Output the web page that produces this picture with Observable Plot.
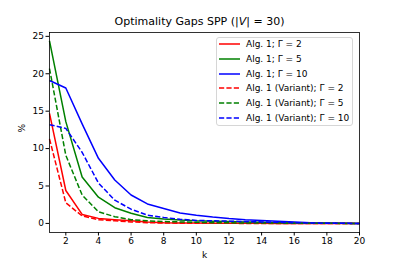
<!DOCTYPE html>
<html>
<head>
<meta charset="utf-8">
<script src="https://cdn.jsdelivr.net/npm/d3@7"></script>
<script src="https://cdn.jsdelivr.net/npm/@observablehq/plot@0.6"></script>
<style>
  body { margin: 0; background: #fff; font-family: "DejaVu Sans", sans-serif; }
  #wrap { position: relative; width: 399px; height: 266px; }
  #title { position: absolute; left: 0; width: 399px; top: 15px; text-align: center; font-size: 11px; color: #000; white-space: nowrap; }
  #legend { position: absolute; left: 216px; top: 37px; width: 137px; height: 89px; border: 1px solid #d6d6d6; border-radius: 3px; background: rgba(255,255,255,0.8); box-sizing: border-box; }
  .row { position: absolute; left: 0; height: 14px; font-size: 9px; color: #000; white-space: nowrap; }
  .row svg { position: absolute; left: 2px; top: 0; }
  .row span { position: absolute; left: 29px; top: 0; line-height: 14px; }
</style>
</head>
<body>
<div id="wrap">
  <div id="chart"></div>
  <div id="title">Optimality Gaps SPP (|<i>V</i>| = 30)</div>
  <div id="legend"></div>
</div>
<script>
const k = [1,2,3,4,5,6,7,8,9,10,11,12,13,14,15,16,17,18,19,20];
const alg1G2  = [14.7,4.4,1.2,0.67,0.5,0.35,0.2,0.1,0.06,0.04,0.03,0.02,0.01,0.01,0,0,0,0,0,0];
const alg1G5  = [24.4,13.6,6.2,3.5,2.1,1.35,0.8,0.6,0.45,0.35,0.3,0.25,0.2,0.15,0.1,0.05,0.03,0.02,0.01,0];
const alg1G10 = [19.1,18.1,13.3,8.7,5.8,3.8,2.6,2.0,1.4,1.1,0.85,0.65,0.5,0.4,0.3,0.2,0.1,0.05,0.02,0];
const varG2   = [11.3,2.75,1.0,0.5,0.35,0.2,0.1,0.05,0.03,0.02,0.01,0.01,0,0,0,0,0,0,0,0];
const varG5   = [20.7,9.1,3.8,1.55,0.9,0.5,0.35,0.25,0.2,0.15,0.1,0.08,0.06,0.05,0.04,0.03,0.02,0.01,0,0];
const varG10  = [13.2,12.7,9.5,5.4,3.1,1.9,1.1,0.8,0.55,0.4,0.35,0.3,0.25,0.2,0.15,0.1,0.05,0.03,0.01,0];
const seriesNames = ["Alg. 1; Γ = 2","Alg. 1; Γ = 5","Alg. 1; Γ = 10","Alg. 1 (Variant); Γ = 2","Alg. 1 (Variant); Γ = 5","Alg. 1 (Variant); Γ = 10"];
const seriesValues = [alg1G2, alg1G5, alg1G10, varG2, varG5, varG10];
const seriesColors = ["#ff0000","#008000","#0000ff","#ff0000","#008000","#0000ff"];
const seriesDashed = [false,false,false,true,true,true];
const xTicks = [2,4,6,8,10,12,14,16,18,20];
const yTicks = [0,5,10,15,20,25];

const dash = "5.2,2.2";
const marks = [];
seriesValues.forEach((vals, i) => {
  const rows = k.map((kk, j) => ({k: kk, v: vals[j]}));
  marks.push(Plot.line(rows, {x: "k", y: "v", stroke: seriesColors[i], strokeWidth: 1.5,
    strokeDasharray: seriesDashed[i] ? dash : null, strokeLinejoin: "round", strokeLinecap: "butt"}));
});

const chart = Plot.plot({
  width: 399, height: 266,
  marginLeft: 49, marginRight: 40, marginTop: 32, marginBottom: 34,
  style: {fontFamily: "DejaVu Sans", fontSize: "9px", color: "#000", background: "#fff", overflow: "visible"},
  x: {domain: [1, 20]},
  y: {domain: [-1.215, 25.515]},
  marks: [
    ...marks,
    Plot.frame({stroke: "#000", strokeWidth: 0.8}),
    Plot.axisY({ticks: yTicks, tickSize: 3.5, tickPadding: 2, label: null, fontSize: 9}),
    Plot.axisX({ticks: xTicks, tickSize: 3.5, tickPadding: 2, label: null, fontSize: 9}),
    Plot.text(["k"], {frameAnchor: "bottom", dy: 25, fontSize: 9}),
    Plot.text(["%"], {frameAnchor: "left", dx: -27, rotate: -90, fontSize: 9})
  ]
});
document.getElementById("chart").appendChild(chart);

const legend = document.getElementById("legend");
seriesNames.forEach((name, i) => {
  const row = document.createElement("div");
  row.className = "row";
  row.style.top = (-1 + i * 14.8) + "px";
  row.innerHTML = `<svg width="22" height="14"><line x1="0" x2="21" y1="7" y2="7" stroke="${seriesColors[i]}" stroke-width="1.5" ${seriesDashed[i] ? `stroke-dasharray="${dash}"` : ""}/></svg><span>${name}</span>`;
  legend.appendChild(row);
});
</script>
</body>
</html>
